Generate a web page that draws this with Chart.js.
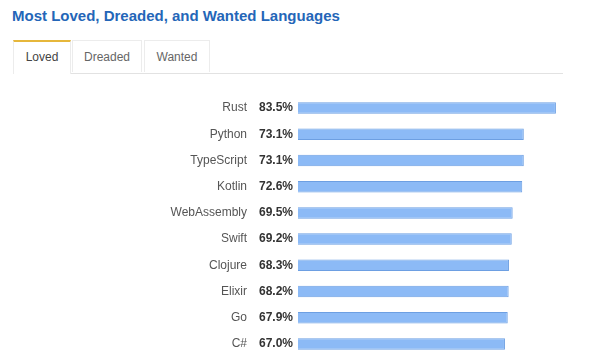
<!DOCTYPE html>
<html>
<head>
<meta charset="utf-8">
<script src="https://cdn.jsdelivr.net/npm/chart.js@4"></script>
<style>
  body { margin: 0; background: #fff; font-family: "Liberation Sans", Arial, sans-serif; }
  #wrap { position: relative; width: 600px; height: 359px; overflow: hidden; }
  h2 { position: absolute; left: 12px; top: 7px; margin: 0; font-size: 15px; font-weight: bold; color: #2466b8; }
  .tabs { position: absolute; left: 13px; top: 40px; width: 550px; height: 33px; border-bottom: 1px solid #e2e2e2; }
  .tab { position: absolute; top: 0; height: 32px; line-height: 33px; text-align: center; font-size: 12px; color: #666;
         border: 1px solid #ececec; border-bottom: none; box-sizing: border-box; }
  .tab.active { color: #444; border-top: 2px solid #e6b73b; background: #fff; height: 34px; line-height: 31px; }
  #lovedChart { position: absolute; left: 0; top: 90px; }
</style>
</head>
<body>
<div id="wrap">
  <h2>Most Loved, Dreaded, and Wanted Languages</h2>
  <div class="tabs">
    <div class="tab active" style="left:0;width:58px;">Loved</div>
    <div class="tab" style="left:59px;width:70px;">Dreaded</div>
    <div class="tab" style="left:131px;width:66px;">Wanted</div>
  </div>
  <canvas id="lovedChart" width="600" height="269"></canvas>
</div>
<script>
// ุฏุงุฏูโูุง
var languages = ['Rust', 'Python', 'TypeScript', 'Kotlin', 'WebAssembly', 'Swift', 'Clojure', 'Elixir', 'Go', 'C#'];
var lovedPct = [83.5, 73.1, 73.1, 72.6, 69.5, 69.2, 68.3, 68.2, 67.9, 67.0];

// value labels between the names and the bars
var valueLabels = {
  id: 'valueLabels',
  afterDatasetsDraw: function(chart) {
    var ctx = chart.ctx;
    var meta = chart.getDatasetMeta(0);
    ctx.save();
    ctx.font = 'bold 12px "Liberation Sans", Arial, sans-serif';
    ctx.fillStyle = '#333';
    ctx.textAlign = 'left';
    ctx.textBaseline = 'middle';
    meta.data.forEach(function(bar, i) {
      ctx.fillText(lovedPct[i].toFixed(1) + '%', 259, bar.y);
    });
    ctx.restore();
  }
};

var ctx = document.getElementById('lovedChart').getContext('2d');
window.barChart = new Chart(ctx, {
  type: 'bar',
  data: {
    labels: languages,
    datasets: [{
      data: lovedPct,
      backgroundColor: '#8cbaf6',
      borderColor: '#6d9fe2',
      borderWidth: 1,
      barPercentage: 0.44,
      categoryPercentage: 1
    }]
  },
  options: {
    indexAxis: 'y',
    responsive: false,
    animation: false,
    layout: { padding: { top: 5, bottom: 2, right: 24 } },
    plugins: { legend: { display: false }, tooltip: { enabled: false } },
    scales: {
      x: {
        min: 0, max: 90,
        display: false
      },
      y: {
        grid: { display: false, drawTicks: false },
        border: { display: false },
        ticks: {
          padding: 51,
          color: '#555',
          font: { family: '"Liberation Sans", Arial, sans-serif', size: 12 }
        },
        afterFit: function(scale) {
          scale.width = 298;
          scale.paddingTop = 0;
          scale.paddingBottom = 0;
        }
      }
    }
  },
  plugins: [valueLabels]
});
</script>
</body>
</html>
